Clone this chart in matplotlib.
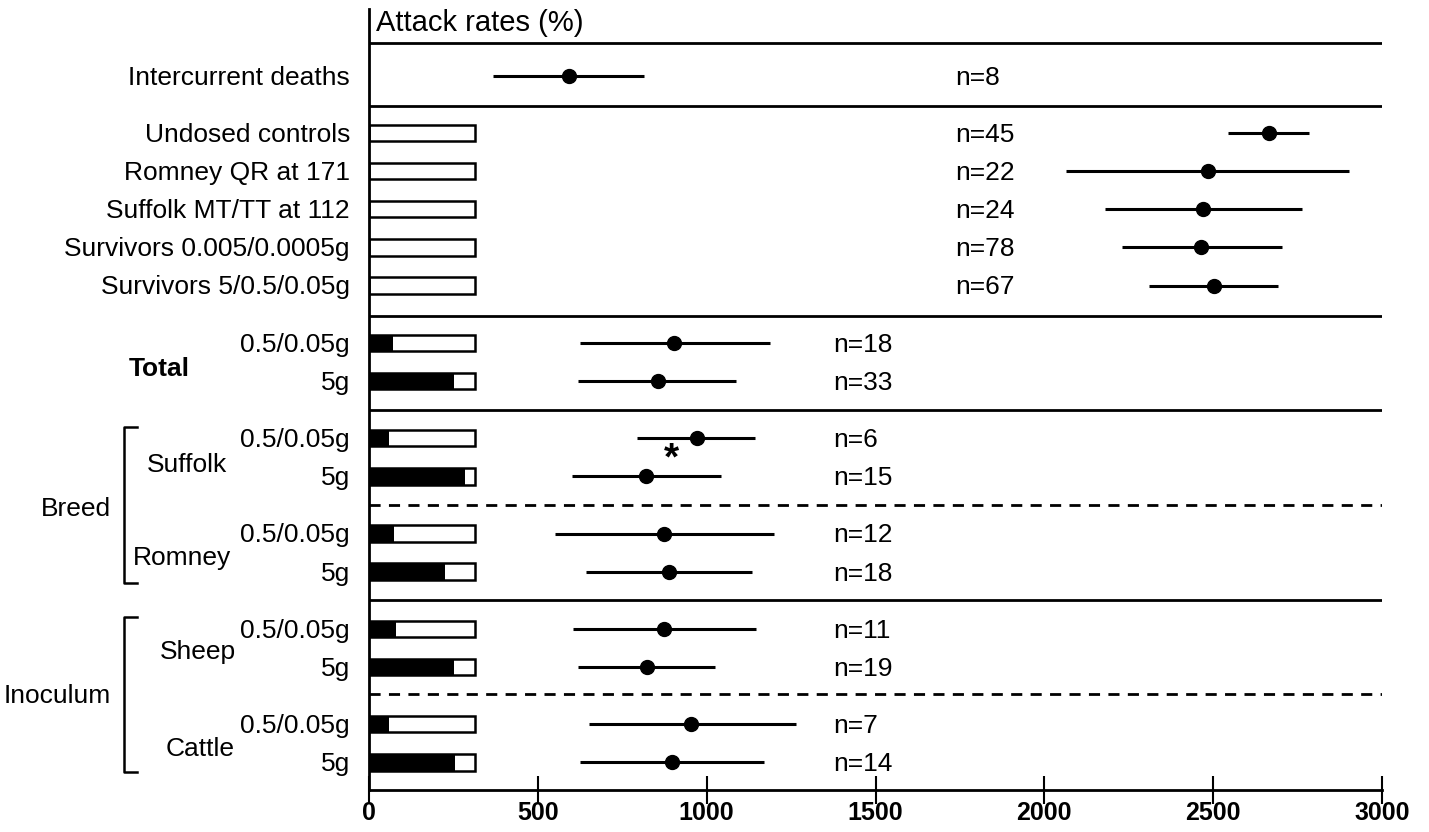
import matplotlib
matplotlib.use("Agg")
import matplotlib.pyplot as plt
import matplotlib.transforms as mtransforms
from matplotlib.lines import Line2D

plt.rcParams['font.family'] = ['Liberation Sans', 'DejaVu Sans']

# ---------------- data ----------------
row_labels = ["Intercurrent deaths",
              "Undosed controls", "Romney QR at 171", "Suffolk MT/TT at 112",
              "Survivors 0.005/0.0005g", "Survivors 5/0.5/0.05g",
              "0.5/0.05g", "5g", "0.5/0.05g", "5g", "0.5/0.05g", "5g",
              "0.5/0.05g", "5g", "0.5/0.05g", "5g"]
means = [592, 2664, 2484, 2469, 2465, 2502,
         904, 857, 970, 819, 875, 887, 875, 822, 954, 898]
lows = [368, 2544, 2065, 2180, 2229, 2309,
        624, 620, 795, 601, 552, 643, 605, 620, 651, 625]
highs = [815, 2783, 2902, 2763, 2705, 2693,
         1187, 1087, 1143, 1041, 1198, 1133, 1146, 1025, 1265, 1170]
n_values = [8, 45, 22, 24, 78, 67, 18, 33, 6, 15, 12, 18, 11, 19, 7, 14]
# attack rates (%) for bar rows; None = no bar
attack_rates = [None, 0, 0, 0, 0, 0, 23, 80, 19, 91, 24, 72, 25, 80, 19, 81]

x_ticks = [0, 500, 1000, 1500, 2000, 2500, 3000]

# ---------------- layout ----------------
row_y = [1.75, 3.25, 4.25, 5.25, 6.25, 7.25,
         8.75, 9.75, 11.25, 12.25, 13.75, 14.75, 16.25, 17.25, 18.75, 19.75]
solid_seps = [0.9, 2.55, 8.05, 10.5, 15.5]
dashed_seps = [13.0, 17.95]
n_x = [1735] * 6 + [1374] * 10
bar_full = 314.0   # axis length representing 100 %
bar_h = 0.43
txt_dy = 0.05

fig = plt.figure(figsize=(14.29, 8.32), dpi=100)
ax = fig.add_axes([369 / 1429, 42.5 / 832, 1013 / 1429, (789.5 - 9) / 832])
ax.set_xlim(0, 3000)
ax.set_ylim(20.46, 0)

for s in ['top', 'right']:
    ax.spines[s].set_visible(False)
ax.spines['left'].set_linewidth(2)
ax.spines['bottom'].set_linewidth(2)
ax.set_yticks([])
ax.set_xticks(x_ticks)
ax.set_xticklabels([str(t) for t in x_ticks], fontsize=18, fontweight='bold')
ax.tick_params(axis='x', direction='inout', length=20, width=1.5, pad=-2)

for y in solid_seps:
    ax.axhline(y, color='black', lw=2)
for y in dashed_seps:
    ax.axhline(y, color='black', lw=2, ls=(0, (4, 3)))

fs = 19
trans_lab = mtransforms.blended_transform_factory(ax.transAxes, ax.transData)
for i, y in enumerate(row_y):
    ar = attack_rates[i]
    if ar is not None:
        ax.barh(y, bar_full, height=bar_h, left=0, color='white',
                edgecolor='black', lw=1.8, zorder=2)
        if ar > 0:
            ax.barh(y, bar_full * ar / 100.0, height=bar_h, left=0,
                    color='black', edgecolor='black', lw=0, zorder=3)
    ax.hlines(y, lows[i], highs[i], color='black', lw=2.2, zorder=4)
    ax.plot(means[i], y, 'o', color='black', ms=10, zorder=5)
    ax.text(n_x[i], y + txt_dy, f"n={n_values[i]}", fontsize=fs, va='center',
            ha='left')
    ax.text(-19 / 1013, y + txt_dy, row_labels[i], fontsize=fs, va='center',
            ha='right', transform=trans_lab)

ax.text(7 / 1013, 0.38, "Attack rates (%)", fontsize=21, va='center', ha='left',
        transform=trans_lab)

# asterisk
ax.text(896, 11.8, "*", fontsize=28, fontweight='bold', ha='center', va='center')

def px(xp):
    return (xp - 369) / 1013.0

# group labels
ax.text(px(190), 9.45, "Total", fontsize=fs, fontweight='bold', va='center',
        ha='right', transform=trans_lab)
groups = [("Suffolk", 187, 11.95), ("Romney", 182, 14.4),
          ("Sheep", 198, 16.85), ("Cattle", 200, 19.4)]
for name, cx, y in groups:
    ax.text(px(cx), y, name, fontsize=fs, va='center', ha='center',
            transform=trans_lab)
ax.text(px(111), 13.1, "Breed", fontsize=fs, va='center', ha='right',
        transform=trans_lab)
ax.text(px(111), 18.0, "Inoculum", fontsize=fs, va='center', ha='right',
        transform=trans_lab)

# brackets
for top, bot in [(10.95, 15.05), (15.93, 20.0)]:
    xs = [px(137), px(124), px(124), px(137)]
    ys = [top, top, bot, bot]
    ax.add_line(Line2D(xs, ys, color='black', lw=1.8, transform=trans_lab,
                       clip_on=False))

fig.savefig("out.png", dpi=100)
